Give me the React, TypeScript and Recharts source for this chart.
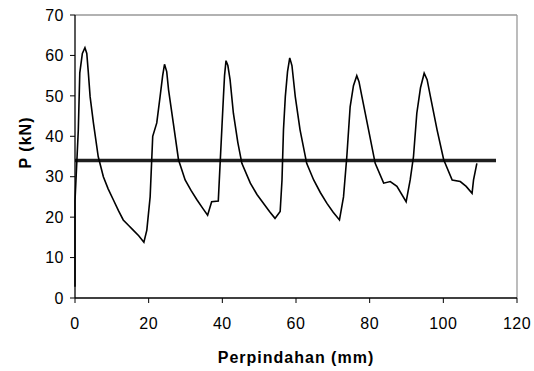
import { CartesianGrid, Line, LineChart, ReferenceLine, XAxis, YAxis } from "recharts";

// load–displacement curve (mm, kN)
const disp = [
  0, 0, 0, 0.9, 1.3, 2.0, 2.7, 3.2, 3.6, 4.1, 5.0, 6.3, 7.7, 9.0, 10.4, 11.8, 13.1, 14.5, 15.8, 17.3, 18.7,
  19.5, 20.4, 21.1, 22.2, 23.1, 23.8, 24.3, 24.9, 25.4, 26.7, 28.1, 29.9, 31.5, 33.1, 34.6, 36.0, 37.1, 38.9,
  39.4, 39.9, 40.3, 40.6, 41.0, 41.5, 42.1, 43.0, 44.2, 45.3, 47.6, 49.4, 51.2, 52.8, 54.3, 55.7,
  56.2, 56.6, 57.1, 57.7, 58.3, 58.9, 59.8, 61.1, 62.9, 64.8, 66.6, 68.4, 70.1, 71.8,
  72.9, 73.8, 74.7, 75.6, 76.5, 77.1, 77.9, 79.7, 81.5, 83.8, 85.6, 87.4, 89.9,
  91.0, 91.9, 92.8, 93.8, 94.8, 95.6, 96.5, 98.3, 100.1, 102.4, 104.6, 106.2, 107.8, 108.2, 109.1,
];
const load = [
  2.8, 12, 24, 41.6, 55.7, 60.5, 61.9, 60.5, 56, 49.8, 43.3, 35, 30, 27, 24.3, 21.6, 19.3, 18, 16.8, 15.4, 13.8,
  16.8, 25, 40, 43.3, 49.8, 55, 57.8, 56, 51.5, 43.2, 34.2, 29.2, 26.6, 24.3, 22.3, 20.5, 23.8, 24,
  33.3, 42.4, 49.8, 55, 58.7, 57.5, 54, 45.7, 38.5, 33.3, 28.4, 25.6, 23.4, 21.4, 19.7, 21.4,
  29.2, 41.6, 49.8, 56, 59.4, 57.5, 49.8, 41.6, 33.3, 29.2, 26.1, 23.4, 21.2, 19.3,
  25, 35, 47.3, 52.5, 55, 53.5, 49.8, 41.6, 33.3, 28.4, 28.8, 27.6, 23.8,
  29.2, 35, 45.7, 52, 55.6, 54, 49.8, 41.6, 34.2, 29.2, 28.8, 27.6, 25.9, 29.2, 33.3,
];

// horizontal reference load
const refDisp = [0, 114.3];
const refLoad = [34, 34];

const xTicks = [0, 20, 40, 60, 80, 100, 120];
const yTicks = [0, 10, 20, 30, 40, 50, 60, 70];

const curve = disp.map((x, i) => ({ x, y: load[i] }));
const refLine = refDisp.map((x, i) => ({ x, y: refLoad[i] }));

const FONT = "'Liberation Sans', Arial, sans-serif";
const tickStyle = { fontSize: 16, fill: "#000", fontFamily: FONT, letterSpacing: 0.5 };

export default function App() {
  return (
    <div style={{ position: "absolute", left: 0, top: 0, background: "#fff" }}>
      <LineChart width={534} height={371} margin={{ top: 15, right: 17, left: 0, bottom: 0 }}>
        <CartesianGrid horizontal={false} vertical={false} />
        <XAxis
          dataKey="x"
          type="number"
          domain={[0, 120]}
          ticks={xTicks}
          height={73}
          axisLine={{ stroke: "#000", strokeWidth: 1.3 }}
          tickLine={{ stroke: "#000" }}
          tickSize={5}
          tick={tickStyle}
          tickMargin={15}
          label={{
            value: "Perpindahan (mm)",
            position: "insideBottom",
            offset: 8,
            style: { fontSize: 16, fontWeight: "bold", fill: "#000", fontFamily: FONT, letterSpacing: 1 },
          }}
        />
        <YAxis
          type="number"
          domain={[0, 70]}
          ticks={yTicks}
          width={75}
          axisLine={{ stroke: "#000", strokeWidth: 1.3 }}
          tickLine={{ stroke: "#000" }}
          tickSize={5}
          tick={tickStyle}
          tickMargin={6}
          label={{
            value: "P (kN)",
            angle: -90,
            position: "insideLeft",
            offset: 25,
            dy: -14,
            style: { fontSize: 16, fontWeight: "bold", fill: "#000", fontFamily: FONT, letterSpacing: 1, textAnchor: "middle" },
          }}
        />
        <ReferenceLine y={70} stroke="#999" strokeWidth={1.3} />
        <ReferenceLine x={120} stroke="#999" strokeWidth={1.3} />
        <Line
          data={refLine}
          dataKey="y"
          type="linear"
          stroke="#1e1e1e"
          strokeWidth={3.5}
          dot={false}
          isAnimationActive={false}
        />
        <Line
          data={curve}
          dataKey="y"
          type="linear"
          stroke="#000"
          strokeWidth={1.6}
          dot={false}
          isAnimationActive={false}
        />
      </LineChart>
    </div>
  );
}
